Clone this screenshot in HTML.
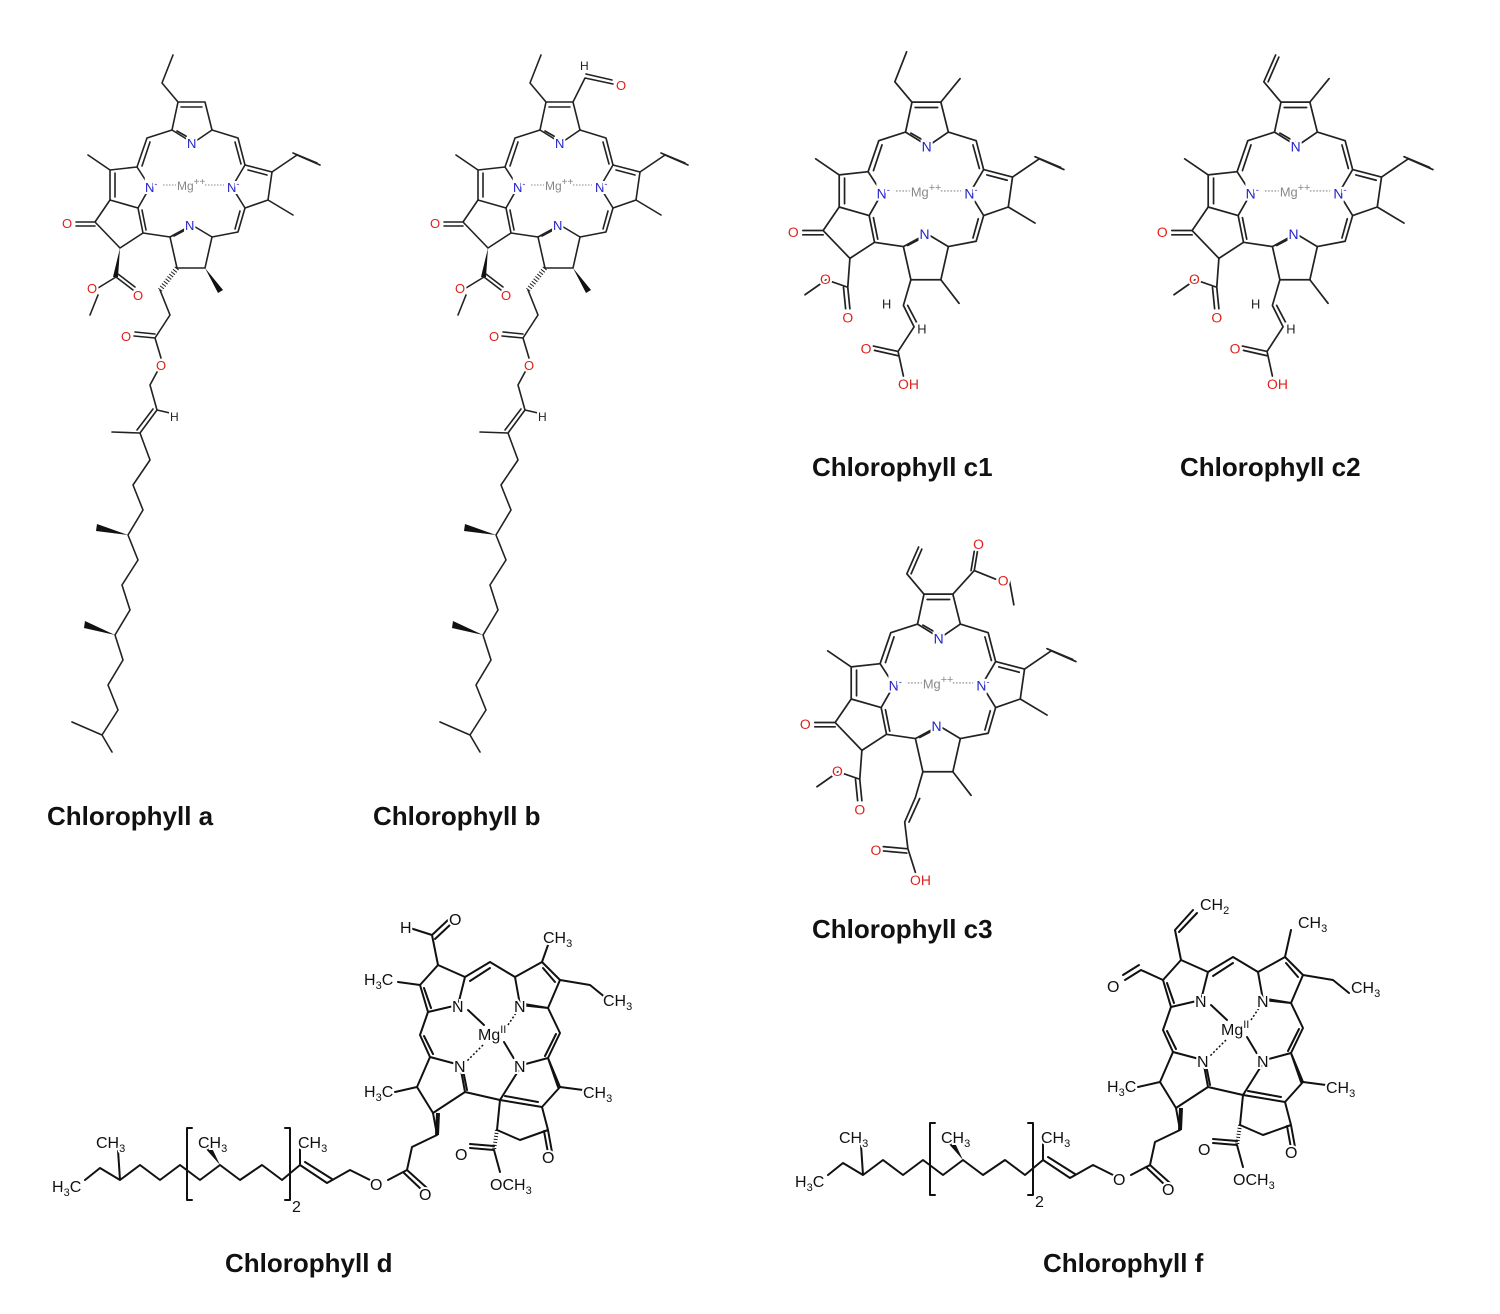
<!DOCTYPE html>
<html><head><meta charset="utf-8"><style>
body{margin:0;background:#fff}
svg{display:block}
text{font-family:"Liberation Sans",sans-serif}
.t{font-family:"Liberation Sans",sans-serif;font-weight:bold;font-size:26px;fill:#111}
.l{stroke:#222;stroke-width:1.6;fill:none;stroke-linecap:round;stroke-linejoin:round}
.k{stroke:#111;stroke-width:2;fill:none;stroke-linecap:round;stroke-linejoin:round}
.N{fill:#2222cc;font-size:13px;paint-order:stroke;stroke:#fff;stroke-width:4px}
.O{fill:#e0201b;font-size:13px;paint-order:stroke;stroke:#fff;stroke-width:4px}
.H{fill:#222;font-size:12px;paint-order:stroke;stroke:#fff;stroke-width:4px}
.lab{fill:#111;font-size:16px;paint-order:stroke;stroke:#fff;stroke-width:4px}
.sub{font-size:11px}
</style></head><body>
<svg width="1500" height="1314" viewBox="0 0 1500 1314" xmlns="http://www.w3.org/2000/svg">
<defs>
<g id="core">
 <path class="l" d="M172,130 L178,102 L205,102 L212,130 L193,143 Z M181,107 L202,107 M177,131 L191,139"/>
 <path class="l" d="M172,130 L147,138 L137,167 M150,142 L142,166 M212,130 L238,138 L245,165 M235,142 L241,164"/>
 <path class="l" d="M137,167 L110,170 L110,200 L138,208 L150,187 Z M115,173 L115,197"/>
 <path class="l" d="M245,165 L272,172 L268,200 L245,208 L232,187 Z M248,170 L267,175"/>
 <path class="l" d="M245,208 L238,232 L212,237 M240,211 L235,229"/>
 <path class="l" d="M212,237 L205,268 L177,268 L170,237 L192,225 Z M174,236 L189,228"/>
 <path class="l" d="M170,237 L143,233 L138,208 M146,230 L142,210 M143,233 L120,248 L95,222 L110,200 M95,222 L76,222 M95,226 L76,226"/>
 <text class="N" x="187" y="148">N</text>
 <text class="N" x="145" y="192">N<tspan font-size="9" dy="-5">-</tspan></text>
 <text class="N" x="227" y="192">N<tspan font-size="9" dy="-5">-</tspan></text>
 <text class="N" x="185" y="230">N</text>
 <text class="O" x="62" y="228">O</text>
 <path d="M163,185 L176,185 M205,185 L224,185" stroke="#888" stroke-width="1" stroke-dasharray="1.5,1.5"/>
 <text x="177" y="190" fill="#888" font-size="12px">Mg<tspan font-size="10" dy="-5">++</tspan></text>
</g>
<g id="subsA">
 <path class="l" d="M178,102 L162,83 L173,55 M110,170 L88,155 M272,172 L297,155 L320,165 M293,153 L317,163 M268,200 L293,215"/>
 <polygon points="120,248 113,277 118,277" fill="#111"/>
 <path class="l" d="M116,277 L98,288 M98,295 L90,315 M116,277 L133,290 M118,274 L135,287"/>
 <text class="O" x="87" y="293">O</text><text class="O" x="133" y="300">O</text>
 <path d="M177,268 L160,290" stroke="#222" stroke-width="5" stroke-dasharray="1,2" fill="none"/>
 <polygon points="205,268 218,293 223,290" fill="#111"/>
 <path class="l" d="M160,290 L170,315 L155,338 L134,336 M155,334 L135,332 M155,338 L161,358 M157,372 L150,385 L157,410 L140,433 L112,432 M153,409 L137,430 M157,410 L170,413 M140,433 L150,460 L133,485 L143,510 L128,535 L138,560 L122,585 L130,610 L115,635 L123,660 L108,685 L118,710 L102,735 L72,722 M102,735 L112,752"/>
 <polygon points="128,535 97,524 96,531" fill="#111"/>
 <polygon points="115,635 85,621 84,628" fill="#111"/>
 <text class="O" x="121" y="341">O</text><text class="O" x="156" y="370">O</text><text class="H" x="170" y="421">H</text>
</g>
<g id="subsC">
 <path class="l" d="M110,170 L88,155 M272,172 L297,155 L320,165 M293,153 L317,163 M268,200 L293,215 M205,268 L222,290"/>
 <path class="l" d="M120,248 L118,275 L98,268 L78,282 M118,275 L120,295 M114,275 L116,295"/>
 <text class="O" x="92" y="272">O</text><text class="O" x="113" y="308">O</text>
</g>
<g id="acidC">
 <path class="l" d="M177,268 L170,292 L180,312 L165,335 M174,292 L184,311 M165,335 L142,330 M165,339 L143,334 M165,335 L170,358"/>
 <text class="H" x="150" y="295">H</text><text class="H" x="183" y="318">H</text>
 <text class="O" x="130" y="337">O</text><text class="O" x="165" y="370">OH</text>
</g>
<g id="coreD">
 <path class="k" d="M438,965 L420,985 L428,1012 L458,1005 L465,977 Z M424,988 L431,1008 M465,977 L490,962 L515,977 M470,981 L490,968"/>
 <path class="k" d="M515,977 L542,962 L560,980 L548,1008 L520,1005 Z M543,968 L555,982 M548,1008 L524,1004"/>
 <path class="k" d="M548,1008 L560,1033 L548,1058 M556,1034 L545,1056"/>
 <path class="k" d="M548,1058 L522,1065 L500,1100 L542,1107 L560,1087 Z M505,1096 L538,1102 M558,1087 L548,1058"/>
 <path class="k" d="M500,1100 L497,1130 L520,1140 L548,1130 L542,1107 M548,1130 L552,1152 M544,1131 L548,1153"/>
 <path class="k" d="M428,1012 L420,1035 L430,1057 M424,1036 L433,1054 M430,1057 L460,1065 L465,1092 L433,1113 L417,1087 Z M463,1070 L467,1090 M465,1092 L500,1100"/>
 <path class="k" d="M468,1010 L484,1025 M504,1042 L516,1062" stroke-width="1.5"/>
 <path d="M483,1045 L466,1062" stroke="#111" stroke-width="1.5" stroke-dasharray="2,2"/>
 <path d="M508,1025 L518,1010" stroke="#111" stroke-width="1.5" stroke-dasharray="2,2"/>
 <text class="lab" x="452" y="1012">N</text><text class="lab" x="514" y="1012">N</text>
 <text class="lab" x="454" y="1072">N</text><text class="lab" x="514" y="1072">N</text>
 <text class="lab" x="478" y="1040">Mg<tspan class="sub" dy="-7">II</tspan></text>
 <text class="lab" x="542" y="1163">O</text>
 <path class="k" d="M417,1087 L395,1092 M433,1113 L437,1135 L412,1147 L407,1170 L427,1188 M404,1173 L423,1191 M407,1170 L388,1180 M370,1180 L350,1170 L327,1183 L300,1165 M332,1179 L305,1162 M300,1165 L300,1148 M300,1165 L282,1180 L262,1165 L240,1180 L220,1165 L200,1180 L180,1165 L160,1180 L140,1165 L120,1180 L100,1168 L85,1180 M120,1180 L118,1150"/>
 <polygon points="220,1165 205,1148 211,1146" fill="#111"/>
 <path class="k" d="M192,1128 L187,1128 L187,1200 L192,1200 M285,1128 L290,1128 L290,1200 L285,1200"/>
 <text class="lab" x="292" y="1212" font-size="12">2</text>
 <text class="lab" x="370" y="1190">O</text><text class="lab" x="419" y="1200">O</text>
 <text class="lab" x="96" y="1148">CH<tspan class="sub" dy="4">3</tspan></text>
 <text class="lab" x="198" y="1148">CH<tspan class="sub" dy="4">3</tspan></text>
 <text class="lab" x="298" y="1148">CH<tspan class="sub" dy="4">3</tspan></text>
 <text class="lab" x="52" y="1192">H<tspan class="sub" dy="4">3</tspan><tspan dy="-4">C</tspan></text>
 <text class="lab" x="364" y="1097">H<tspan class="sub" dy="4">3</tspan><tspan dy="-4">C</tspan></text>
 <path d="M437,1135 L438,1113" stroke="#111" stroke-width="4" fill="none"/>
 <path d="M497,1130 L494,1150" stroke="#111" stroke-width="4" stroke-dasharray="1,2" fill="none"/>
 <path class="k" d="M494,1150 L470,1148 M494,1146 L470,1144 M494,1150 L500,1172"/>
 <text class="lab" x="455" y="1160">O</text><text class="lab" x="490" y="1190">OCH<tspan class="sub" dy="4">3</tspan></text>
 <path class="k" d="M560,980 L590,985 L606,998 M560,1087 L583,1090"/>
</g>
</defs>

<use href="#core"/><use href="#subsA"/>
<g transform="translate(368,0)"><use href="#core"/><use href="#subsA"/>
 <rect x="215" y="72" width="16" height="30" fill="#fff"/>
 <path class="l" d="M205,102 L217,78 L245,84 M218,74 L244,80"/>
 <text class="H" x="212" y="70">H</text><text class="O" x="248" y="90">O</text>
</g>

<g transform="translate(721.5,-7) scale(1.07)"><use href="#core"/><use href="#subsC"/><use href="#acidC"/>
 <path class="l" d="M178,102 L162,83 L173,55 M205,102 L223,80"/></g>
<g transform="translate(1090.5,-7) scale(1.07)"><use href="#core"/><use href="#subsC"/><use href="#acidC"/>
 <path class="l" d="M178,102 L162,83 L173,58 M166,83 L176,60 M205,102 L223,80"/></g>
<g transform="translate(733.5,485) scale(1.07)"><use href="#core"/><use href="#subsC"/>
 <path class="l" d="M177,268 L170,292 L160,315 M174,293 L164,315 M160,315 L163,340 L140,338 M162,344 L140,342 M163,340 L170,362"/>
 <text class="O" x="128" y="346">O</text><text class="O" x="165" y="374">OH</text>
 <path class="l" d="M178,102 L162,83 L173,58 M166,83 L176,60 M205,102 L225,80 L228,62 M222,80 L225,62 M225,80 L245,88 M258,90 L262,112"/>
 <text class="O" x="224" y="60">O</text><text class="O" x="247" y="94">O</text></g>

<use href="#coreD"/>
<path class="k" d="M438,965 L432,935 L410,928 M432,935 L448,920 M435,939 L451,924 M420,985 L398,982"/>
<text class="lab" x="400" y="933">H</text><text class="lab" x="449" y="925">O</text>
<text class="lab" x="364" y="985">H<tspan class="sub" dy="4">3</tspan><tspan dy="-4">C</tspan></text>
<path class="k" d="M542,962 L548,945"/>
<text class="lab" x="543" y="943">CH<tspan class="sub" dy="4">3</tspan></text>
<text class="lab" x="603" y="1006">CH<tspan class="sub" dy="4">3</tspan></text>
<text class="lab" x="583" y="1098">CH<tspan class="sub" dy="4">3</tspan></text>

<g transform="translate(743,-5)"><use href="#coreD"/>
 <path class="k" d="M438,965 L432,935 L450,915 M436,937 L454,918 M420,985 L398,975 L382,985 M396,970 L380,980"/>
 <text class="lab" x="457" y="915">CH<tspan class="sub" dy="4">2</tspan></text>
 <text class="lab" x="364" y="997">O</text>
 <path class="k" d="M542,962 L548,935"/>
 <text class="lab" x="555" y="933">CH<tspan class="sub" dy="4">3</tspan></text>
 <text class="lab" x="608" y="998">CH<tspan class="sub" dy="4">3</tspan></text>
 <text class="lab" x="583" y="1098">CH<tspan class="sub" dy="4">3</tspan></text>
</g>

<text class="t" x="47" y="825">Chlorophyll a</text>
<text class="t" x="373" y="825">Chlorophyll b</text>
<text class="t" x="812" y="476">Chlorophyll c1</text>
<text class="t" x="1180" y="476">Chlorophyll c2</text>
<text class="t" x="812" y="938">Chlorophyll c3</text>
<text class="t" x="225" y="1272">Chlorophyll d</text>
<text class="t" x="1043" y="1272">Chlorophyll f</text>
</svg>
</body></html>
